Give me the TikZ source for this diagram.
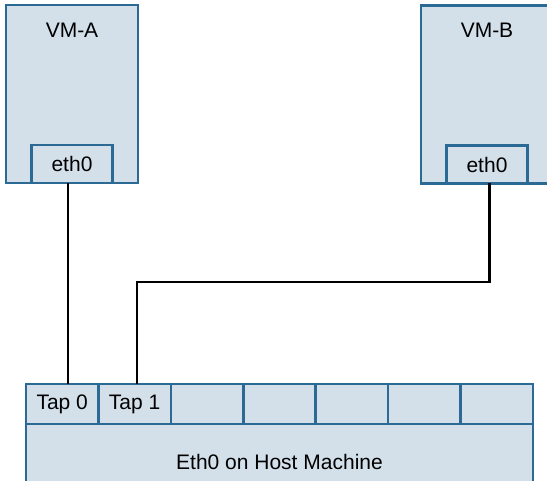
\documentclass[tikz,border=0pt]{standalone}
\usepackage{fontspec}
\setmainfont{Liberation Sans}
\usepackage{xcolor}
\usetikzlibrary{positioning}
\definecolor{boxfill}{HTML}{D3E0EA}
\definecolor{boxline}{HTML}{2A6A94}

\begin{document}
\begin{tikzpicture}[x=1pt, y=-1pt, node distance=0pt,
      every node/.style={font=\fontsize{21}{25}\selectfont, inner sep=0pt, outer sep=0pt},
      part/.style={draw=boxline, fill=boxfill, line width=2.6pt},
      vmbox/.style={part, minimum width=132pt, minimum height=178pt},
      ethbox/.style={part, minimum width=81pt, minimum height=38pt},
      tapcell/.style={part, minimum width=72.43pt, minimum height=40pt},
      wire/.style={draw=black, line width=2.6pt}]
    \clip (0,0) rectangle (547,481);
    \node[vmbox, label={[anchor=north, yshift=-18pt]north:VM-A}] (vma) at (72,94) {};
    \node[vmbox, label={[anchor=north, yshift=-18pt]north:VM-B}] (vmb) at (487,94.5) {};
    \node[ethbox, above=of vma.south] (etha) {eth0};
    \node[ethbox, above=of vmb.south] (ethb) {eth0};
    \node[tapcell, anchor=north west] (tap0) at (26,384) {Tap 0};
    \node[tapcell, right=of tap0] (tap1) {Tap 1};
    \foreach \i [remember=\i as \last (initially 1)] in {2,...,6}
      \node[tapcell, right=of tap\last] (tap\i) {};
    \node[part, minimum width=507pt, minimum height=74pt, below right=0pt and 0pt of tap0.south west,
      text depth=0pt] (host) {\raisebox{-2pt}{Eth0 on Host Machine}};
    \draw[wire] ([xshift=-4pt]etha.south) -- ([xshift=-4pt]etha.south |- tap0.north);
    \draw[wire] ([xshift=2.5pt]tap1.north) -- ++(0,-102) -| ([xshift=2.5pt]ethb.south);
  \end{tikzpicture}
\end{document}
